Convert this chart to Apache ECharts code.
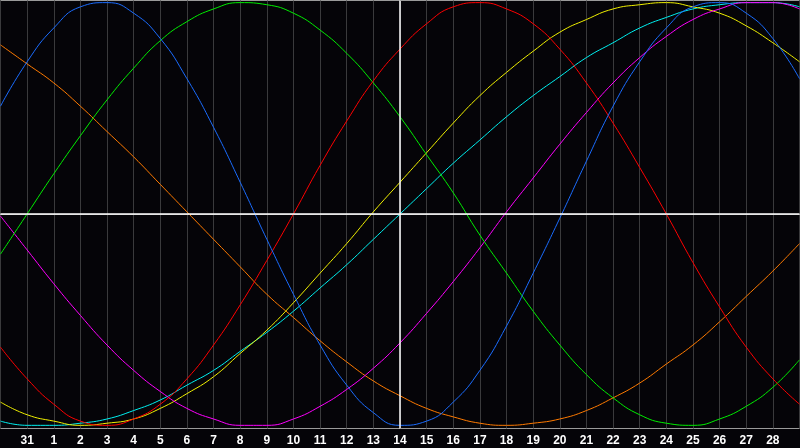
<!DOCTYPE html>
<html>
<head>
<meta charset="utf-8">
<script src="https://cdn.jsdelivr.net/npm/echarts@6/dist/echarts.min.js"></script>
<style>
html,body{margin:0;padding:0;background:#050408;}
#chart{width:800px;height:448px;}
</style>
</head>
<body>
<div id="chart"></div>
<script>
// days shown on the axis (first and last are at the edges, not labelled)
var days = ['30','31','1','2','3','4','5','6','7','8','9','10','11','12','13','14',
            '15','16','17','18','19','20','21','22','23','24','25','26','27','28','29'];

// values, -1 .. 1, one per day
var physical = [0.51,0.72,0.88,0.98,1.00,0.95,0.83,0.64,0.41,0.15,-0.12,-0.38,-0.62,-0.81,-0.94,-1.00,
                -0.98,-0.89,-0.74,-0.53,-0.28,-0.02,0.25,0.51,0.72,0.88,0.98,1.00,0.95,0.83,0.64];
var emotional = [-0.63,-0.78,-0.90,-0.98,-1.00,-0.97,-0.90,-0.78,-0.62,-0.43,-0.22,0.00,0.23,0.44,0.63,0.78,
                 0.90,0.98,1.00,0.97,0.90,0.78,0.62,0.43,0.22,0.00,-0.23,-0.44,-0.63,-0.78,-0.90];
var intellectual = [-0.19,0.00,0.19,0.37,0.54,0.69,0.82,0.91,0.97,1.00,0.99,0.95,0.87,0.76,0.62,0.46,
                    0.28,0.10,-0.10,-0.28,-0.46,-0.62,-0.76,-0.87,-0.95,-0.99,-1.00,-0.97,-0.91,-0.82,-0.69];
var intuitive = [-0.01,-0.17,-0.33,-0.48,-0.62,-0.74,-0.84,-0.92,-0.97,-1.00,-1.00,-0.97,-0.91,-0.83,-0.73,-0.61,
                 -0.47,-0.32,-0.16,0.01,0.17,0.33,0.48,0.62,0.74,0.84,0.92,0.97,1.00,1.00,0.97];
var aesthetic = [-0.89,-0.95,-0.98,-1.00,-0.99,-0.97,-0.92,-0.85,-0.77,-0.66,-0.55,-0.42,-0.28,-0.14,0.01,0.15,
                 0.29,0.43,0.56,0.67,0.77,0.86,0.92,0.97,0.99,1.00,0.98,0.95,0.89,0.81,0.72];
var awareness = [0.80,0.71,0.62,0.51,0.39,0.27,0.14,0.01,-0.12,-0.25,-0.38,-0.49,-0.60,-0.70,-0.79,-0.86,
                 -0.92,-0.96,-0.99,-1.00,-0.99,-0.97,-0.93,-0.87,-0.80,-0.71,-0.62,-0.51,-0.39,-0.27,-0.14];
var spiritual = [-0.98,-1.00,-1.00,-0.99,-0.97,-0.93,-0.88,-0.81,-0.74,-0.65,-0.56,-0.46,-0.35,-0.24,-0.12,0.00,
                 0.12,0.24,0.35,0.46,0.56,0.65,0.74,0.81,0.88,0.93,0.97,0.99,1.00,1.00,0.98];

var todayIndex = 15;

var chart = echarts.init(document.getElementById('chart'));

function curve(name, data, color) {
    return {
        name: name,
        type: 'line',
        data: data,
        smooth: true,
        symbol: 'none',
        silent: true,
        lineStyle: { color: color, width: 1 },
        z: 3
    };
}

var series = [
    curve('spiritual', spiritual, '#00f0f0'),
    curve('awareness', awareness, '#ff7a00'),
    curve('aesthetic', aesthetic, '#f0f000'),
    curve('intuitive', intuitive, '#ff00ff'),
    curve('intellectual', intellectual, '#00ee00'),
    curve('emotional', emotional, '#ff0000'),
    curve('physical', physical, '#1a6cff')
];
// today + zero line
series[0].markLine = {
    silent: true,
    symbol: 'none',
    label: { show: false },
    lineStyle: { color: '#ffffff', width: 1.5, type: 'solid' },
    data: [ { xAxis: todayIndex }, { yAxis: 0 } ]
};

var option = {
    backgroundColor: '#050408',
    animation: false,
    grid: {
        left: 0.5, right: 0.5, top: 0.5, height: 428,
        outerBoundsMode: 'none',
        containLabel: false,
        show: true,
        borderColor: '#9a9a9a',
        borderWidth: 1,
        backgroundColor: 'transparent'
    },
    xAxis: {
        type: 'category',
        boundaryGap: false,
        data: days,
        axisLine: { show: true, lineStyle: { color: '#9a9a9a', width: 1 } },
        axisTick: { show: false },
        axisLabel: {
            interval: 0,
            color: '#ffffff',
            fontFamily: 'Liberation Sans',
            fontWeight: 'bold',
            fontSize: 12,
            margin: 6,
            formatter: function (v, i) {
                return (i === 0 || i === days.length - 1) ? '' : v;
            }
        },
        splitLine: { show: true, interval: 0, lineStyle: { color: '#3a3a3c', width: 1 } }
    },
    yAxis: {
        type: 'value',
        min: -1.015,
        max: 1.01,
        axisLine: { show: false },
        axisTick: { show: false },
        axisLabel: { show: false },
        splitLine: { show: false }
    },
    series: series
};

chart.setOption(option);
</script>
</body>
</html>
